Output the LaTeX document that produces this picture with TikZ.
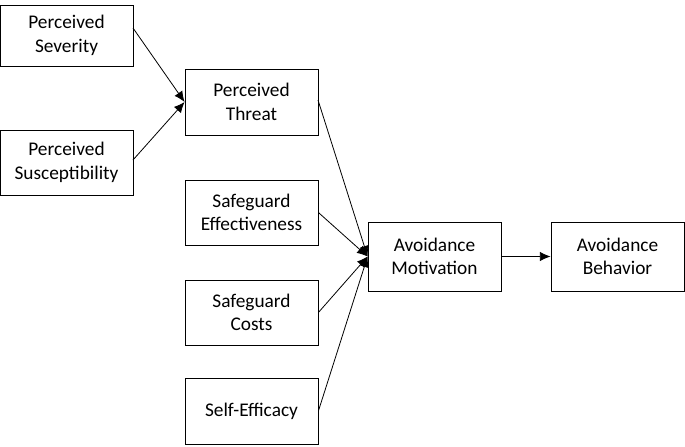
\documentclass[tikz,border=0pt]{standalone}
\usepackage{fontspec}
\setmainfont{Carlito}
\usetikzlibrary{arrows.meta,positioning,shapes}

\begin{document}
\begin{tikzpicture}[x=0.75pt,y=-0.75pt,
            factor/.style={draw,rectangle,minimum width=99.75pt,text width=92pt,align=center,font=\fontsize{14.5}{17.5}\selectfont,inner sep=2pt},
            every path/.style={->,>={Latex[length=8pt,width=7pt]}},
            line width=0.6pt
          ]
          \useasboundingbox (0,0) rectangle (685,446);
          %first column
          \node[factor,minimum height=45.75pt] (sev) at (66.5,35.5) {Perceived\\Severity};
          \node[factor,minimum height=48.75pt] (sus) at (66.5,162.5) {Perceived\\Susceptibility};
          %second column
          \node[factor,minimum height=49.5pt] (thr) at (251.5,102) {Perceived\\Threat};
          \node[factor,minimum height=48.75pt] (eff) at (251.5,212.5) {Safeguard\\Effectiveness};
          \node[factor,minimum height=48.75pt] (cost) at (251.5,312.5) {Safeguard\\Costs};
          \node[factor,minimum height=49.5pt] (self) at (251.5,411) {Self-Efficacy};
          %outcomes
          \node[factor,minimum height=51.75pt] (mot) at (434.5,256.5) {Avoidance\\Motivation};
          \node[factor,minimum height=51.75pt] (beh) at (617.5,256.5) {Avoidance\\Behavior};

          \coordinate (tin) at (thr.west);
          \coordinate (min) at (mot.west);
          \draw (133,28) -- (tin);
          \draw (133,160) -- (tin);
          \draw (318,100) -- (min);
          \draw (eff.east) -- (min);
          \draw (cost.east) -- (min);
          \draw (self.east) -- (min);
          \draw (mot) -- (beh);
      \end{tikzpicture}
\end{document}
